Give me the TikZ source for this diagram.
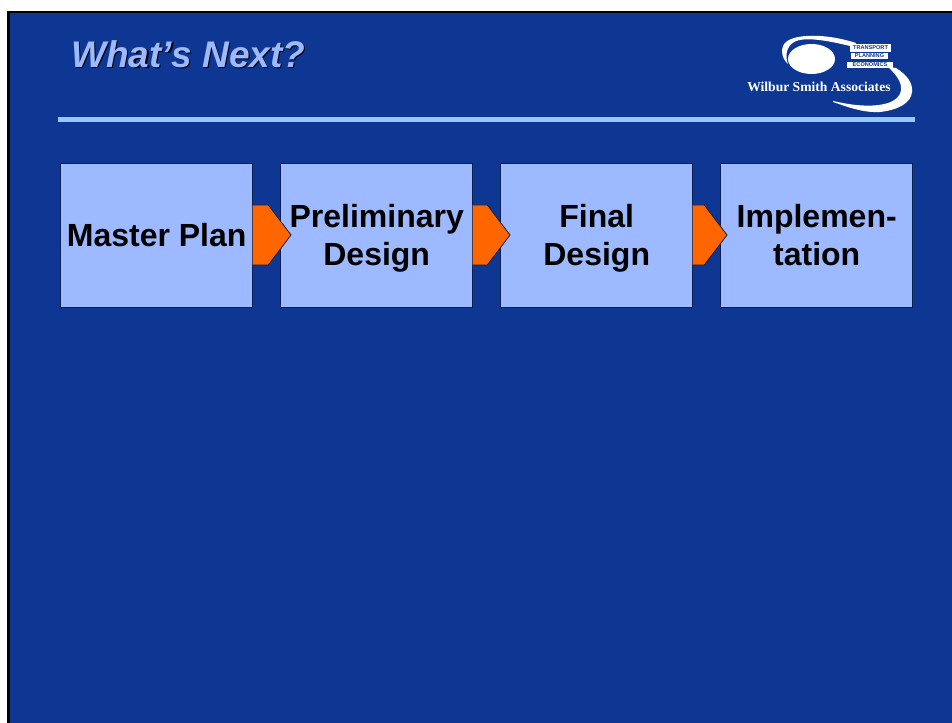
\documentclass[tikz,border=0pt]{standalone}
\usepackage{fontspec}
\setmainfont{Liberation Sans}
\newfontfamily\logoserif{Liberation Serif}
\definecolor{slidebg}{HTML}{0D3792}
\definecolor{boxfill}{HTML}{9DB9FF}
\definecolor{rulecol}{HTML}{96C8FF}
\definecolor{arrowcol}{HTML}{FF6600}
\definecolor{edgecol}{HTML}{0A1F50}
\newcommand{\stageline}[1]{\raisebox{0pt}[17.5pt][0pt]{#1}}
\tikzset{
  stagebox/.style={draw=edgecol,line width=0.7pt,fill=boxfill,outer sep=0pt,minimum width=144pt,minimum height=108pt,inner sep=0pt,align=center,text=black,font=\fontsize{24}{28.5}\selectfont\bfseries,anchor=north west},
  chevron/.style={draw=edgecol,line width=0.6pt,fill=arrowcol,line join=miter},
  logoshape/.style={fill=white,draw=none},
  logotag/.style={fill=white,inner sep=0pt,outer sep=0pt,text=slidebg,font=\fontsize{4.2}{5}\selectfont\bfseries,anchor=center}
}
\begin{document}
\begin{tikzpicture}[x=0.75pt,y=-0.75pt]
\useasboundingbox (0,0) rectangle (952,723);
\fill[white] (0,0) rectangle (952,723);
\fill[black] (7.3,11) rectangle (952,723);
\fill[slidebg] (10,13.4) rectangle (952,723);
% title
\node[anchor=base west,inner sep=0pt,text=black,font=\fontsize{27.8}{32}\selectfont\bfseries\itshape] at (72.2,69) {What’s Next?};
\node[anchor=base west,inner sep=0pt,text=boxfill,font=\fontsize{27.8}{32}\selectfont\bfseries\itshape] (title) at (71,67.8) {What’s Next?};
% rule
\fill[rulecol] (58.3,117) rectangle (915,122);
% logo
\fill[logoshape] (811.5,59) ellipse [x radius=23.5,y radius=15];
\fill[logoshape] (788,64) .. controls (781,58) and (780,47) .. (786,42)
  .. controls (795,34) and (825,33) .. (856,43) -- (854,47)
  .. controls (830,41) and (805,36) .. (794,42)
  .. controls (786,47) and (785,56) .. (788,64) -- cycle;
\fill[logoshape] (888,67) -- (896,68) .. controls (907,75) and (913,83) .. (912,92)
  .. controls (911,103) and (898,110) .. (880,112)
  .. controls (862,113) and (845,106) .. (833,102)
  -- (833.5,101) .. controls (850,105) and (872,108) .. (888,103)
  .. controls (903,98) and (908,85) .. (888,67) -- cycle;
\node[logotag,minimum width=30.75pt,minimum height=6pt] (tagone) at (870.5,48) {TRANSPORT};
\node[logotag,minimum width=27.75pt,minimum height=4.5pt] (tagtwo) at (869.5,56) {PLANNING};
\node[logotag,minimum width=34.5pt,minimum height=4.5pt] (tagthree) at (870,65) {ECONOMICS};
\node[anchor=base west,inner sep=0pt,text=white,font=\logoserif\fontsize{10.2}{12}\selectfont\bfseries] (logotext) at (747,92) {Wilbur Smith Associates};
% boxes
\node[stagebox] (master) at (60.7,163.3) {\stageline{Master Plan}};
\node[stagebox] (prelim) at (280.7,163.3) {\stageline{Preliminary}\\\stageline{Design}};
\node[stagebox] (final) at (500.7,163.3) {\stageline{Final}\\\stageline{Design}};
\node[stagebox] (impl) at (720.7,163.3) {\stageline{Implemen-}\\\stageline{tation}};
% chevrons
\draw[chevron] (master.east |- 0,205) -- (268.3,205) -- (291,235) -- (268.3,265) -- (master.east |- 0,265);
\draw[chevron] (prelim.east |- 0,205) -- (487.3,205) -- (510,235) -- (487.3,265) -- (prelim.east |- 0,265);
\draw[chevron] (final.east |- 0,205) -- (704.3,205) -- (727,235) -- (704.3,265) -- (final.east |- 0,265);
\end{tikzpicture}
\end{document}
